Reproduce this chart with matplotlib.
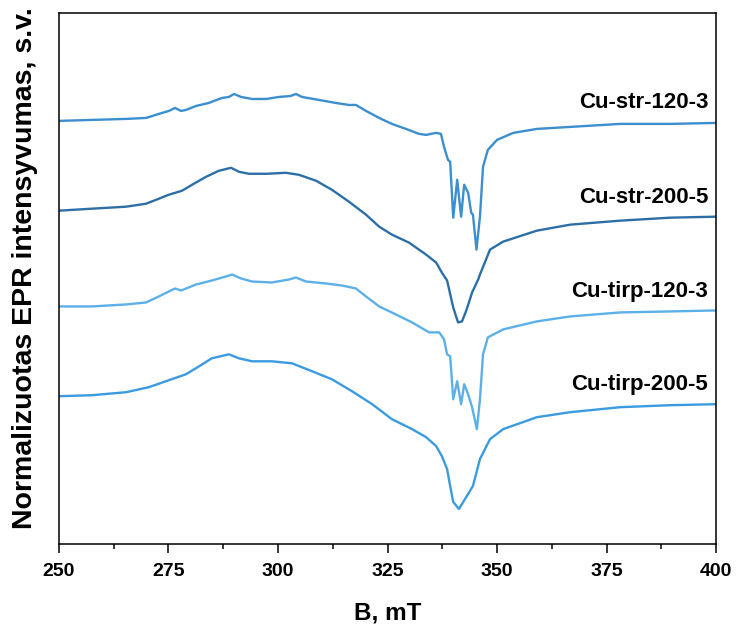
import matplotlib
matplotlib.use("Agg")

import matplotlib.pyplot as plt
from matplotlib.ticker import MultipleLocator

# EPR spectra, magnetic field (mT) vs. normalised intensity (arb. units, stacked)
b_str_120 = [250.0, 257.5, 265.3, 269.9, 272.8, 275.1, 276.5, 277.9, 279.0, 281.3,
             284.2, 287.2, 288.8, 290.0, 291.6, 294.1, 297.3, 300.2, 302.9, 304.1,
             305.5, 309.4, 313.2, 316.2, 317.8, 320.1, 323.1, 326.0, 329.2, 332.2,
             333.8, 336.1, 337.2, 337.9, 338.8, 339.3, 340.0, 340.9, 341.8, 342.5,
             343.4, 344.1, 344.5, 345.3, 346.1, 346.8, 347.9, 350.0, 353.7, 359.1,
             366.7, 378.1, 389.5, 400.0]
i_str_120 = [424, 425, 426, 427, 431, 434, 437, 434, 435, 439,
             442, 447, 448, 451, 448, 446, 446, 448, 449, 451,
             448, 445, 442, 440, 440, 434, 427, 421, 416, 411,
             410, 412, 411, 398, 385, 383, 327, 365, 328, 360,
             352, 332, 330, 295, 328, 378, 395, 405, 412, 416,
             418, 421, 421, 422]

b_str_200 = [250.0, 257.5, 265.3, 269.9, 272.8, 275.1, 278.1, 280.4, 283.6, 286.5,
             289.3, 291.1, 293.4, 297.3, 301.8, 304.8, 308.7, 312.3, 316.2, 320.1,
             323.1, 326.0, 329.9, 333.8, 336.1, 337.4, 338.6, 340.0, 341.1, 342.0,
             342.9, 343.8, 344.3, 345.7, 346.1, 348.4, 351.4, 359.1, 366.7, 378.1,
             389.5, 400.0]
i_str_200 = [334, 336, 338, 341, 346, 350, 354, 360, 368, 374,
             377, 373, 371, 371, 372, 370, 364, 355, 343, 330,
             318, 310, 302, 290, 282, 272, 264, 237, 222, 223,
             233, 245, 252, 265, 270, 295, 303, 314, 320, 324,
             327, 328]

b_tirp_120 = [250.0, 257.5, 265.3, 269.9, 272.8, 275.1, 276.5, 277.9, 281.3, 284.9,
              288.1, 289.5, 291.6, 294.1, 298.6, 302.5, 304.1, 306.4, 311.0, 314.6,
              317.8, 320.1, 323.1, 326.9, 330.6, 334.5, 336.8, 337.9, 338.6, 339.3,
              340.0, 340.9, 341.8, 342.5, 343.4, 344.3, 345.4, 346.1, 346.8, 347.9,
              351.4, 359.1, 366.7, 378.1, 389.5, 400.0]
i_tirp_120 = [238, 238, 240, 242, 248, 253, 256, 254, 260, 264,
              268, 270, 266, 263, 262, 265, 267, 263, 261, 259,
              256, 248, 238, 230, 222, 212, 212, 205, 190, 188,
              145, 163, 140, 160, 150, 137, 115, 145, 190, 207,
              215, 223, 228, 232, 233, 234]

b_tirp_200 = [250.0, 257.5, 265.3, 270.5, 274.4, 279.0, 282.0, 284.9, 288.8, 291.1,
              294.1, 298.6, 303.2, 307.8, 312.3, 316.9, 321.5, 326.0, 330.6, 333.8,
              336.1, 337.4, 338.6, 339.3, 340.0, 341.3, 342.7, 344.5, 346.1, 348.4,
              351.4, 359.1, 366.7, 378.1, 389.5, 400.0]
i_tirp_200 = [148, 149, 152, 157, 163, 170, 178, 186, 190, 186,
              183, 183, 181, 173, 165, 153, 140, 125, 115, 107,
              98, 88, 75, 58, 42, 35, 45, 58, 85, 105,
              115, 127, 132, 137, 139, 140]

names = ["Cu-str-120-3", "Cu-str-200-5", "Cu-tirp-120-3", "Cu-tirp-200-5"]
label_y = [442, 347, 253, 160]
colors = ["#3b8fcf", "#2b6fa6", "#5cb0e8", "#3a9be0"]

series = [(b_str_120, i_str_120), (b_str_200, i_str_200),
          (b_tirp_120, i_tirp_120), (b_tirp_200, i_tirp_200)]

plt.rcParams["font.family"] = ["Liberation Sans", "DejaVu Sans"]

fig = plt.figure(figsize=(7.36, 6.28), dpi=100)
ax = fig.add_axes([0.080, 0.134, 0.893, 0.845])

for (b, inten), c in zip(series, colors):
    ax.plot(b, inten, color=c, lw=1.7, solid_joinstyle="round")

for name, y in zip(names, label_y):
    ax.text(398.2, y, name, ha="right", va="center", fontsize=16,
            fontweight="bold")

ax.set_xlim(250, 400)
ax.set_ylim(0, 532)
ax.xaxis.set_major_locator(MultipleLocator(25))
ax.xaxis.set_minor_locator(MultipleLocator(12.5))
ax.set_yticks([])
ax.tick_params(axis="x", which="major", direction="out", length=6.5, width=1.1,
               labelsize=14, pad=7)
ax.tick_params(axis="x", which="minor", direction="out", length=3.5, width=1.1)
for lbl in ax.get_xticklabels():
    lbl.set_fontweight("bold")
for sp in ax.spines.values():
    sp.set_linewidth(1.1)

ax.set_xlabel("B, mT", fontsize=17.5, fontweight="bold")
ax.xaxis.set_label_coords(0.5, -0.108)
ax.set_ylabel("Normalizuotas EPR intensyvumas, s.v.", fontsize=20.5,
              fontweight="bold")
ax.yaxis.set_label_coords(-0.032, 0.52)

fig.savefig("out.png", dpi=100)
